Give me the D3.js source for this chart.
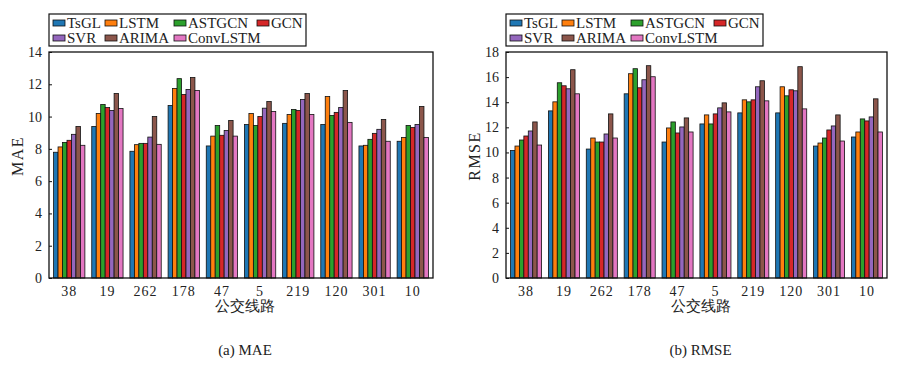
<!DOCTYPE html>
<html>
<head>
<meta charset="utf-8">
<script src="https://cdn.jsdelivr.net/npm/d3@7"></script>
<style>
  body { margin: 0; background: #fff; }
  svg { display: block; }
  text { font-family: "Liberation Serif", "DejaVu Serif", serif; fill: #222; }
</style>
</head>
<body>
<svg id="chart" width="901" height="368"></svg>
<script>
const routes = ["38", "19", "262", "178", "47", "5", "219", "120", "301", "10"];
const models = ["TsGL", "LSTM", "ASTGCN", "GCN", "SVR", "ARIMA", "ConvLSTM"];
const colors = ["#1f77b4", "#ff7f0e", "#2ca02c", "#d62728", "#9467bd", "#8c564b", "#e377c2"];

// one row per model, one value per route
const mae = [
  [7.79, 9.39, 7.85, 10.69, 8.18, 9.51, 9.58, 9.51, 8.18, 8.47],
  [8.12, 10.19, 8.26, 11.74, 8.79, 10.19, 10.13, 11.24, 8.22, 8.71],
  [8.40, 10.75, 8.34, 12.35, 9.45, 9.45, 10.44, 10.07, 8.59, 9.45],
  [8.53, 10.56, 8.34, 11.37, 8.84, 10.0, 10.38, 10.26, 8.96, 9.33],
  [8.90, 10.38, 8.73, 11.68, 9.14, 10.52, 11.06, 10.56, 9.21, 9.51],
  [9.39, 11.43, 10.0, 12.42, 9.76, 10.93, 11.43, 11.61, 9.82, 10.63],
  [8.22, 10.50, 8.28, 11.61, 8.79, 10.32, 10.13, 9.64, 8.47, 8.71]
];
const rmse = [
  [10.16, 13.31, 10.27, 14.67, 10.83, 12.27, 13.15, 13.15, 10.51, 11.23],
  [10.51, 14.03, 11.15, 16.27, 11.95, 12.99, 14.19, 15.23, 10.75, 11.63],
  [10.99, 15.55, 10.83, 16.67, 12.43, 12.27, 14.03, 14.51, 11.15, 12.67],
  [11.31, 15.31, 10.83, 15.15, 11.55, 13.07, 14.19, 14.99, 11.79, 12.51],
  [11.71, 15.07, 11.47, 15.79, 12.03, 13.55, 15.23, 14.91, 12.11, 12.83],
  [12.43, 16.59, 13.07, 16.91, 12.75, 13.95, 15.71, 16.83, 12.99, 14.27],
  [10.59, 14.67, 11.15, 16.03, 11.63, 13.23, 14.11, 13.47, 10.91, 11.63]
];
const maeTicks = [0, 2, 4, 6, 8, 10, 12, 14];
const rmseTicks = [0, 2, 4, 6, 8, 10, 12, 14, 16, 18];

const svg = d3.select("#chart");

function drawPanel(opts) {
  const { left, right, top, bottom, values, yMax, ticks, yLabel, caption } = opts;
  const g = svg.append("g");

  const x = d3.scaleBand().domain(routes).range([left, right]).paddingInner(0.18).paddingOuter(0.12);
  const xs = d3.scaleBand().domain(models).range([0, x.bandwidth()]);
  const y = d3.scaleLinear().domain([0, yMax]).range([bottom, top]);

  // bars
  const groups = g.selectAll("g.route")
    .data(routes)
    .join("g")
    .attr("class", "route")
    .attr("transform", (d) => `translate(${x(d)},0)`);

  groups.selectAll("rect")
    .data((r, ri) => models.map((m, mi) => ({ m, mi, v: values[mi][ri] })))
    .join("rect")
    .attr("x", (d) => xs(d.m))
    .attr("width", xs.bandwidth())
    .attr("y", (d) => y(d.v))
    .attr("height", (d) => bottom - y(d.v))
    .attr("fill", (d) => colors[d.mi])
    .attr("stroke", "#111")
    .attr("stroke-width", 0.8);

  // y axis, ticks pointing in
  const yAxis = g.append("g")
    .attr("transform", `translate(${left},0)`)
    .call(d3.axisLeft(y).tickValues(ticks).tickSizeInner(-3).tickSizeOuter(0).tickPadding(7));
  yAxis.select(".domain").remove();
  yAxis.selectAll("line").attr("stroke", "#111");
  yAxis.selectAll("text").attr("font-size", 14).attr("font-family", "Liberation Serif").attr("fill", "#222");

  // x axis
  const xAxis = g.append("g")
    .attr("transform", `translate(0,${bottom})`)
    .call(d3.axisBottom(x).tickSize(0).tickPadding(8));
  xAxis.select(".domain").remove();
  xAxis.selectAll("text").attr("font-size", 14).attr("font-family", "Liberation Serif")
    .attr("letter-spacing", 1).attr("fill", "#222");

  // frame
  g.append("rect")
    .attr("x", left).attr("y", top)
    .attr("width", right - left).attr("height", bottom - top)
    .attr("fill", "none").attr("stroke", "#111").attr("stroke-width", 1.3);

  // labels
  g.append("text")
    .attr("transform", `translate(${left - 26},156) rotate(-90)`)
    .attr("text-anchor", "middle")
    .attr("font-size", 16)
    .attr("letter-spacing", 1.5)
    .text(yLabel);

  g.append("text")
    .attr("x", (left + right) / 2 + 4).attr("y", 311)
    .attr("text-anchor", "middle")
    .attr("font-family", "Noto Sans CJK SC")
    .attr("font-size", 15)
    .text("公交线路");

  g.append("text")
    .attr("x", (left + right) / 2 + 4).attr("y", 355)
    .attr("text-anchor", "middle")
    .attr("font-size", 15)
    .text(caption);

  // legend
  const lg = g.append("g").attr("transform", `translate(${left},14)`);
  lg.append("rect")
    .attr("width", 257).attr("height", 32)
    .attr("fill", "#fff").attr("stroke", "#111").attr("stroke-width", 1.2);
  const colX = [4, 56, 125, 208];
  const item = lg.selectAll("g.item")
    .data(models)
    .join("g")
    .attr("class", "item")
    .attr("transform", (d, i) => `translate(${colX[i % 4]},${i < 4 ? 9 : 24})`);
  item.append("rect")
    .attr("y", -3).attr("width", 12).attr("height", 6)
    .attr("fill", (d, i) => colors[i])
    .attr("stroke", "#111").attr("stroke-width", 0.8);
  item.append("text")
    .attr("x", 14).attr("dy", "0.35em")
    .attr("font-size", 15)
    .text((d) => d);
}

drawPanel({ left: 49, right: 433, top: 52, bottom: 278, values: mae, yMax: 14, ticks: maeTicks, yLabel: "MAE", caption: "(a) MAE" });
drawPanel({ left: 506, right: 887, top: 52, bottom: 278, values: rmse, yMax: 18, ticks: rmseTicks, yLabel: "RMSE", caption: "(b) RMSE" });
</script>
</body>
</html>
